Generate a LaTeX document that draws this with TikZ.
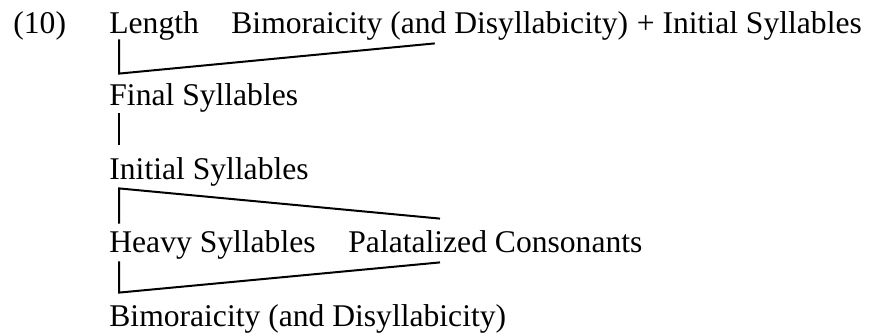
\documentclass[tikz,border=0pt]{standalone}
\usepackage{fontspec}
\setmainfont{Liberation Serif}
\usepackage{tikz}
\usetikzlibrary{positioning}

\begin{document}
\begin{tikzpicture}[x=0.5pt, y=-0.5pt,
  word/.style={inner sep=0pt, anchor=base west, text height=11pt, text depth=3.5pt},
  rank/.style={line width=1pt},
  font=\fontsize{15.8pt}{19pt}\selectfont]
\useasboundingbox (0,0) rectangle (871,332);

\node[word] at (13,33) (ex) {(10)};

\node[word] at (109,33) (len) {Length};
\node[word] at (231,33) (bim) {Bimoraicity (and Disyllabicity)};
\node[word, base right=4pt of bim] (ini1) {+ Initial Syllables};

\node[word] at (109,105) (fin) {Final Syllables};
\node[word] at (109,179) (ini) {Initial Syllables};
\node[word] at (109,252) (hvy) {Heavy Syllables};
\node[word] at (348,252) (pal) {Palatalized Consonants};
\node[word] at (109,326) (bmd) {Bimoraicity (and Disyllabicity)};

\draw[rank] ([xshift=5pt,yshift=0.5pt]len.south west) -- ([xshift=5pt,yshift=4.5pt]fin.north west) -- ([xshift=2.5pt,yshift=-1.5pt]bim.south);
\draw[rank] ([xshift=5pt,yshift=-0.5pt]fin.south west) -- ([xshift=5pt,yshift=6pt]ini.north west);
\draw[rank] ([xshift=5pt,yshift=3pt]hvy.north west) -- ([xshift=5pt,yshift=-1pt]ini.south west) -- ([xshift=46pt,yshift=5.5pt]pal.north west);
\draw[rank] ([xshift=5pt,yshift=-1pt]hvy.south west) -- ([xshift=5pt,yshift=5.5pt]bmd.north west) -- ([xshift=46pt,yshift=-1.5pt]pal.south west);
\end{tikzpicture}
\end{document}
